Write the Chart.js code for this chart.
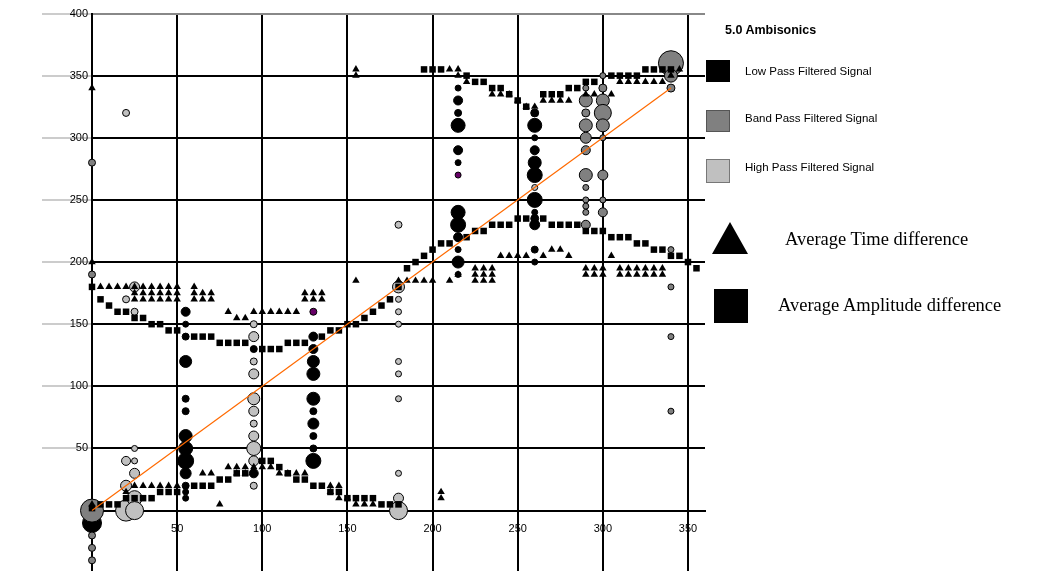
<!DOCTYPE html>
<html>
<head>
<meta charset="utf-8">
<script src="https://cdn.jsdelivr.net/npm/chart.js@4/dist/chart.umd.min.js"></script>
<style>
  body { margin: 0; background: #fff; width: 1044px; height: 571px; overflow: hidden; position: relative; font-family: "Liberation Sans", Arial, sans-serif; }
  #chart { position: absolute; left: 0; top: 0; }
  .lg { position: absolute; white-space: nowrap; color: #000; }
  .sm { font-size: 11.5px; line-height: 14px; }
  .big { font-family: "Liberation Serif", "Times New Roman", serif; font-size: 18.5px; line-height: 22px; }
  .box { position: absolute; width: 24px; height: 22px; box-sizing: border-box; }
</style>
</head>
<body>
<canvas id="chart" width="1044" height="585"></canvas>

<!-- legend -->
<div class="lg" style="left:725px;top:23px;font-size:12.5px;font-weight:bold;">5.0 Ambisonics</div>
<div class="box" style="left:706px;top:60px;background:#000;"></div>
<div class="lg sm" style="left:745px;top:64px;">Low Pass Filtered Signal</div>
<div class="box" style="left:706px;top:110px;background:#808080;border:1px solid #555;"></div>
<div class="lg sm" style="left:745px;top:111px;">Band Pass Filtered Signal</div>
<div class="box" style="left:706px;top:159px;height:24px;background:#c0c0c0;border:1px solid #777;"></div>
<div class="lg sm" style="left:745px;top:160px;">High Pass Filtered Signal</div>
<div style="position:absolute;left:712px;top:222px;width:0;height:0;border-left:18px solid transparent;border-right:18px solid transparent;border-bottom:32px solid #000;"></div>
<div class="lg big" style="left:785px;top:228px;">Average Time difference</div>
<div style="position:absolute;left:714px;top:289px;width:34px;height:34px;background:#000;"></div>
<div class="lg big" style="left:778px;top:294px;">Average Amplitude difference</div>

<script>
// bubbles: [angle x, perceived y, size]
const lowPass = [
  [0, -10, 9.5],
  [55, 160, 4.5], [55, 150, 3], [55, 140, 3.5], [55, 120, 6], [55, 90, 3.5], [55, 80, 3.5],
  [55, 60, 6.5], [55, 50, 7], [55, 40, 8], [55, 30, 5.5], [55, 20, 3.5], [55, 15, 3], [55, 10, 3],
  [95, 130, 3.5], [95, 30, 4.5],
  [130, 140, 4.5], [130, 130, 4.5], [130, 120, 6], [130, 110, 6.5], [130, 90, 6.5], [130, 80, 3.5],
  [130, 70, 5.5], [130, 60, 3.5], [130, 50, 3.5], [130, 40, 7.5],
  [215, 340, 3], [215, 330, 4.5], [215, 320, 3.5], [215, 310, 7], [215, 290, 4.5], [215, 280, 3],
  [215, 240, 7], [215, 230, 7.5], [215, 220, 4.5], [215, 210, 3], [215, 200, 6], [215, 190, 3],
  [260, 320, 4], [260, 310, 7], [260, 300, 3], [260, 290, 4.5], [260, 280, 6.5], [260, 270, 7.5],
  [260, 250, 7.5], [260, 240, 3], [260, 235, 4], [260, 230, 5], [260, 210, 3.5], [260, 200, 3]
];
const bandPass = [
  [0, 280, 3.5], [0, 190, 3.5], [0, 0, 11.5], [0, -20, 3.5], [0, -30, 3.5], [0, -40, 3.5],
  [290, 340, 3], [290, 330, 6.5], [290, 320, 4], [290, 310, 6.5], [290, 300, 5.5], [290, 290, 4.5],
  [290, 270, 6.5], [290, 260, 3], [290, 250, 3], [290, 245, 3], [290, 240, 3], [290, 230, 4.5],
  [300, 350, 3], [300, 340, 4], [300, 330, 6.5], [300, 320, 8.5], [300, 310, 6.5], [300, 300, 3],
  [300, 270, 5], [300, 250, 3], [300, 240, 4.5],
  [340, 360, 12.5], [340, 350, 6.5], [340, 340, 4], [340, 210, 3], [340, 180, 3], [340, 140, 3], [340, 80, 3]
];
const highPass = [
  [20, 320, 3.5], [20, 170, 3.5], [20, 40, 4.5], [20, 20, 5.5], [20, 0, 10.5],
  [25, 180, 5], [25, 160, 3.5], [25, 50, 3], [25, 40, 3], [25, 30, 5], [25, 10, 7.5], [25, 0, 9],
  [95, 150, 3.5], [95, 140, 5], [95, 120, 3.5], [95, 110, 5], [95, 90, 6], [95, 80, 5], [95, 70, 3.5],
  [95, 60, 5], [95, 50, 7], [95, 40, 5], [95, 20, 3.5],
  [180, 230, 3.5], [180, 180, 6], [180, 170, 3], [180, 160, 3], [180, 150, 3], [180, 120, 3],
  [180, 110, 3], [180, 90, 3], [180, 30, 3], [180, 10, 5], [180, 0, 9],
  [260, 260, 3]
];
const marked = [[130, 160, 3.5], [215, 270, 3]];

// average amplitude difference (squares)
const ampDiff = [
  [0, 180], [5, 170], [10, 165], [15, 160], [20, 160], [25, 155], [30, 155], [35, 150], [40, 150],
  [45, 145], [50, 145], [60, 140], [65, 140], [70, 140], [75, 135], [80, 135], [85, 135], [90, 135],
  [100, 130], [105, 130], [110, 130], [115, 135], [120, 135], [125, 135], [135, 140], [140, 145],
  [145, 145], [150, 150], [155, 150], [160, 155], [165, 160], [170, 165], [175, 170], [180, 180],
  [185, 195], [190, 200], [195, 205], [200, 210], [205, 215], [210, 215], [220, 220], [225, 225],
  [230, 225], [235, 230], [240, 230], [245, 230], [250, 235], [255, 235], [265, 235], [270, 230],
  [275, 230], [280, 230], [285, 230], [290, 225], [295, 225], [300, 225], [305, 220], [310, 220],
  [315, 220], [320, 215], [325, 215], [330, 210], [335, 210], [340, 205], [345, 205], [350, 200], [355, 195],
  [0, 2], [5, 5], [10, 5], [15, 5], [20, 10], [25, 10], [30, 10], [35, 10], [40, 15], [45, 15], [50, 15],
  [60, 20], [65, 20], [70, 20], [75, 25], [80, 25], [85, 30], [90, 30], [100, 40], [105, 40], [110, 35],
  [115, 30], [120, 25], [125, 25], [130, 20], [135, 20], [140, 15], [145, 15], [150, 10], [155, 10],
  [160, 10], [165, 10], [170, 5], [175, 5], [180, 5],
  [195, 355], [200, 355], [205, 355], [220, 350], [225, 345], [230, 345], [235, 340], [240, 340],
  [245, 335], [250, 330], [255, 325], [265, 335], [270, 335], [275, 335], [280, 340], [285, 340],
  [290, 345], [295, 345], [305, 350], [310, 350], [315, 350], [320, 350], [325, 355], [330, 355],
  [335, 355], [340, 355]
];

// average time difference (triangles)
const timeDiff = [
  [0, 340], [0, 200], [0, 5],
  [5, 180], [10, 180], [15, 180], [20, 180], [25, 180], [30, 180], [35, 180], [40, 180], [45, 180], [50, 180],
  [25, 175], [30, 175], [35, 175], [40, 175], [45, 175], [50, 175],
  [25, 170], [30, 170], [35, 170], [40, 170], [45, 170], [50, 170],
  [60, 180], [60, 175], [65, 175], [70, 175], [60, 170], [65, 170], [70, 170],
  [80, 160], [85, 155], [90, 155], [95, 160], [100, 160], [105, 160], [110, 160], [115, 160], [120, 160],
  [125, 175], [130, 175], [135, 175], [125, 170], [130, 170], [135, 170],
  [155, 355], [155, 350], [155, 185],
  [180, 185], [185, 185], [190, 185], [195, 185], [200, 185], [210, 185], [215, 190],
  [225, 195], [230, 195], [235, 195], [225, 190], [230, 190], [235, 190], [225, 185], [230, 185], [235, 185],
  [240, 205], [245, 205], [250, 205], [255, 205], [265, 205], [270, 210], [275, 210], [280, 205], [305, 205],
  [290, 195], [295, 195], [300, 195], [310, 195], [315, 195], [320, 195], [325, 195], [330, 195], [335, 195],
  [290, 190], [295, 190], [300, 190], [310, 190], [315, 190], [320, 190], [325, 190], [330, 190], [335, 190],
  [210, 355], [215, 355], [215, 350], [220, 345], [235, 335], [240, 335], [245, 335], [250, 330],
  [255, 325], [260, 325], [265, 330], [270, 330], [275, 330], [280, 330], [290, 335], [295, 335],
  [305, 335], [310, 345], [315, 345], [320, 345], [325, 345], [330, 345], [335, 345], [340, 350], [345, 355],
  [20, 15], [25, 20], [30, 20], [35, 20], [40, 20], [45, 20], [50, 20],
  [65, 30], [70, 30], [75, 5], [80, 35], [85, 35], [90, 35], [85, 30], [90, 30],
  [95, 35], [100, 35], [105, 35], [110, 30], [115, 30], [120, 30], [125, 30],
  [140, 20], [145, 20], [140, 15], [145, 10], [150, 10], [155, 5], [160, 5], [165, 5],
  [205, 15], [205, 10]
];

// ideal response line
const diagonal = [[0, 0], [340, 340]];

// axis ticks
const xTickValues = [0, 50, 100, 150, 200, 250, 300, 350];
const yTickValues = [0, 50, 100, 150, 200, 250, 300, 350, 400];

const toBubble = arr => arr.map(([x, y, r]) => ({ x, y, r }));
const toPoint = arr => arr.map(([x, y]) => ({ x, y }));

const tickFont = { family: '"Liberation Sans Narrow", "Liberation Sans", Arial, sans-serif', size: 11 };

const ctx = document.getElementById('chart').getContext('2d');

new Chart(ctx, {
  type: 'bubble',
  data: {
    datasets: [
      {
        type: 'line',
        data: toPoint(diagonal),
        borderColor: '#ff6a00',
        borderWidth: 1.2,
        pointRadius: 0,
        fill: false,
        order: 0,
        clip: false
      },
      {
        type: 'scatter',
        data: toPoint(timeDiff),
        pointStyle: 'triangle',
        pointRadius: 4.3,
        backgroundColor: '#000',
        borderColor: '#000',
        borderWidth: 0,
        order: 1,
        clip: false
      },
      {
        type: 'scatter',
        data: toPoint(ampDiff),
        pointStyle: 'rect',
        pointRadius: 4.6,
        backgroundColor: '#000',
        borderColor: '#000',
        borderWidth: 0,
        order: 2,
        clip: false
      },
      {
        data: toBubble(marked),
        backgroundColor: '#660066',
        borderColor: '#000',
        borderWidth: 1,
        order: 3,
        clip: false
      },
      {
        data: toBubble(highPass),
        backgroundColor: '#c0c0c0',
        borderColor: '#000',
        borderWidth: 1,
        order: 4,
        clip: false
      },
      {
        data: toBubble(bandPass),
        backgroundColor: '#808080',
        borderColor: '#000',
        borderWidth: 1,
        order: 5,
        clip: false
      },
      {
        data: toBubble(lowPass),
        backgroundColor: '#000',
        borderColor: '#000',
        borderWidth: 1,
        order: 6,
        clip: false
      }
    ]
  },
  options: {
    responsive: false,
    animation: false,
    layout: { padding: { left: 0, right: 339, top: 12, bottom: 1 } },
    plugins: {
      legend: { display: false },
      tooltip: { enabled: false }
    },
    scales: {
      x: {
        type: 'linear',
        position: { y: 0 },
        min: 0,
        max: 360,
        afterBuildTicks: s => { s.ticks = xTickValues.map(v => ({ value: v })); },
        ticks: {
          color: '#000',
          font: tickFont,
          padding: 2,
          maxRotation: 0,
          callback: v => (v > 0 ? v : '')
        },
        grid: { color: '#000', lineWidth: 2, tickLength: 10 },
        border: { color: '#000', width: 2 }
      },
      y: {
        type: 'linear',
        position: 'left',
        min: -49,
        max: 400,
        afterBuildTicks: s => { s.ticks = yTickValues.map(v => ({ value: v })); },
        ticks: {
          color: '#000',
          font: tickFont,
          padding: -46,
          callback: v => (v > 0 ? v : '')
        },
        grid: {
          color: c => (c.tick && c.tick.value === 400 ? '#888' : '#000'),
          lineWidth: 2,
          tickLength: 50,
          tickColor: c => (c.tick && c.tick.value > 0 ? '#999' : 'rgba(0,0,0,0)'),
          tickWidth: 1
        },
        border: { color: '#000', width: 2 },
        afterFit: s => { s.width = 92; }
      }
    }
  }
});
</script>
</body>
</html>
